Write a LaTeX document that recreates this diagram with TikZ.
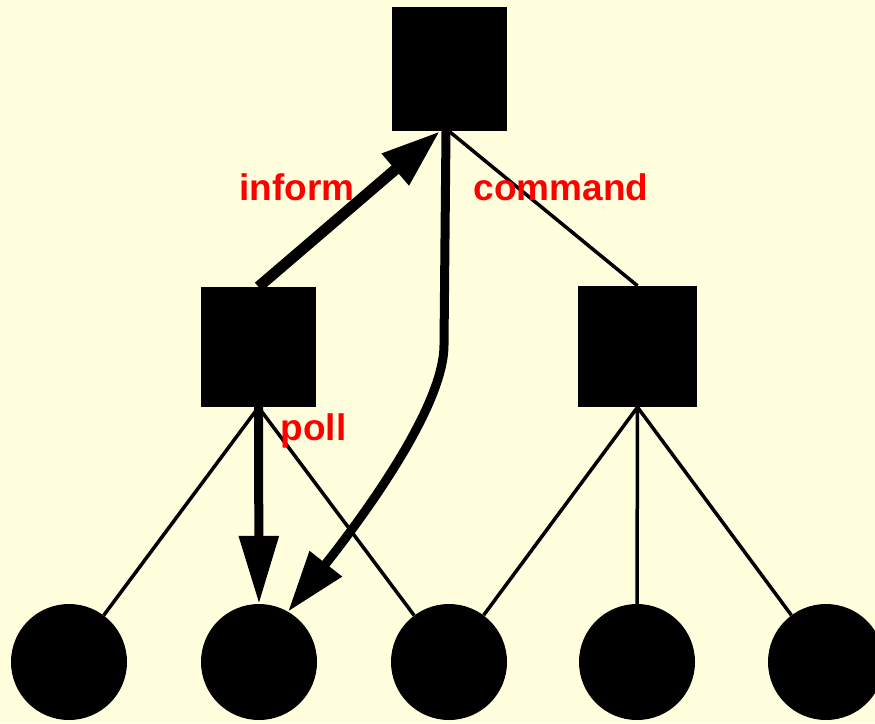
\documentclass[tikz,border=0pt]{standalone}
\usepackage{fontspec}
\setmainfont{Liberation Sans}
\usetikzlibrary{arrows.meta}
\definecolor{bgyellow}{RGB}{255,255,222}
\definecolor{lblred}{RGB}{255,0,0}
\tikzset{
  boss/.style={fill=black, draw=none, inner sep=0pt, minimum width=#1},
  member/.style={circle, fill=black, draw=none, inner sep=0pt, minimum size=116pt},
  link/.style={line width=3.5pt, draw=black},
  msg/.style={draw=black, line width=#1},
  lbl/.style={text=lblred, font=\fontsize{37}{40}\selectfont\bfseries, anchor=base, inner sep=0pt}
}
\begin{document}
\begin{tikzpicture}[x=1pt, y=-1pt]
\fill[bgyellow] (0,0) rectangle (875,723);
\useasboundingbox (0,0) rectangle (875,723);
% nodes
\node[boss=115pt, minimum height=124pt] (top) at (449,69) {};
\node[boss=115pt, minimum height=120pt] (L) at (258.5,347) {};
\node[boss=119pt, minimum height=121pt] (R) at (637.5,346.5) {};
\node[member] (c1) at (69,662) {};
\node[member] (c2) at (259,662) {};
\node[member] (c3) at (449,662) {};
\node[member] (c4) at (637,662) {};
\node[member] (c5) at (826,662) {};
% thin links
\draw[link] (top.south) -- (R.north);
\draw[link] (L.south) -- (c1);
\draw[link] (L.south) -- (c3);
\draw[link] (R.south) -- (c3);
\draw[link] (R.south) -- (c4.north);
\draw[link] (R.south) -- (c5);
% messages
\draw[msg=11pt, -{Triangle[length=59pt,width=39pt]}] (L.north) -- ([xshift=-9pt]top.south);
\coordinate (bend) at (444,345);
\draw[msg=9pt, -{Triangle[length=68pt,width=38pt]}] (L.south) -- (c2.north);
\draw[msg=9pt, -{Triangle[length=61pt,width=39pt]}] ([xshift=-3pt]top.south) -- (bend) .. controls (444,400) and (380,495) .. (c2.60);
% labels
\node[lbl] (tinform) at (297,200) {inform};
\node[lbl] (tcommand) at (561,200) {command};
\node[lbl] (tpoll) at (313.5,440) {poll};
\end{tikzpicture}
\end{document}
